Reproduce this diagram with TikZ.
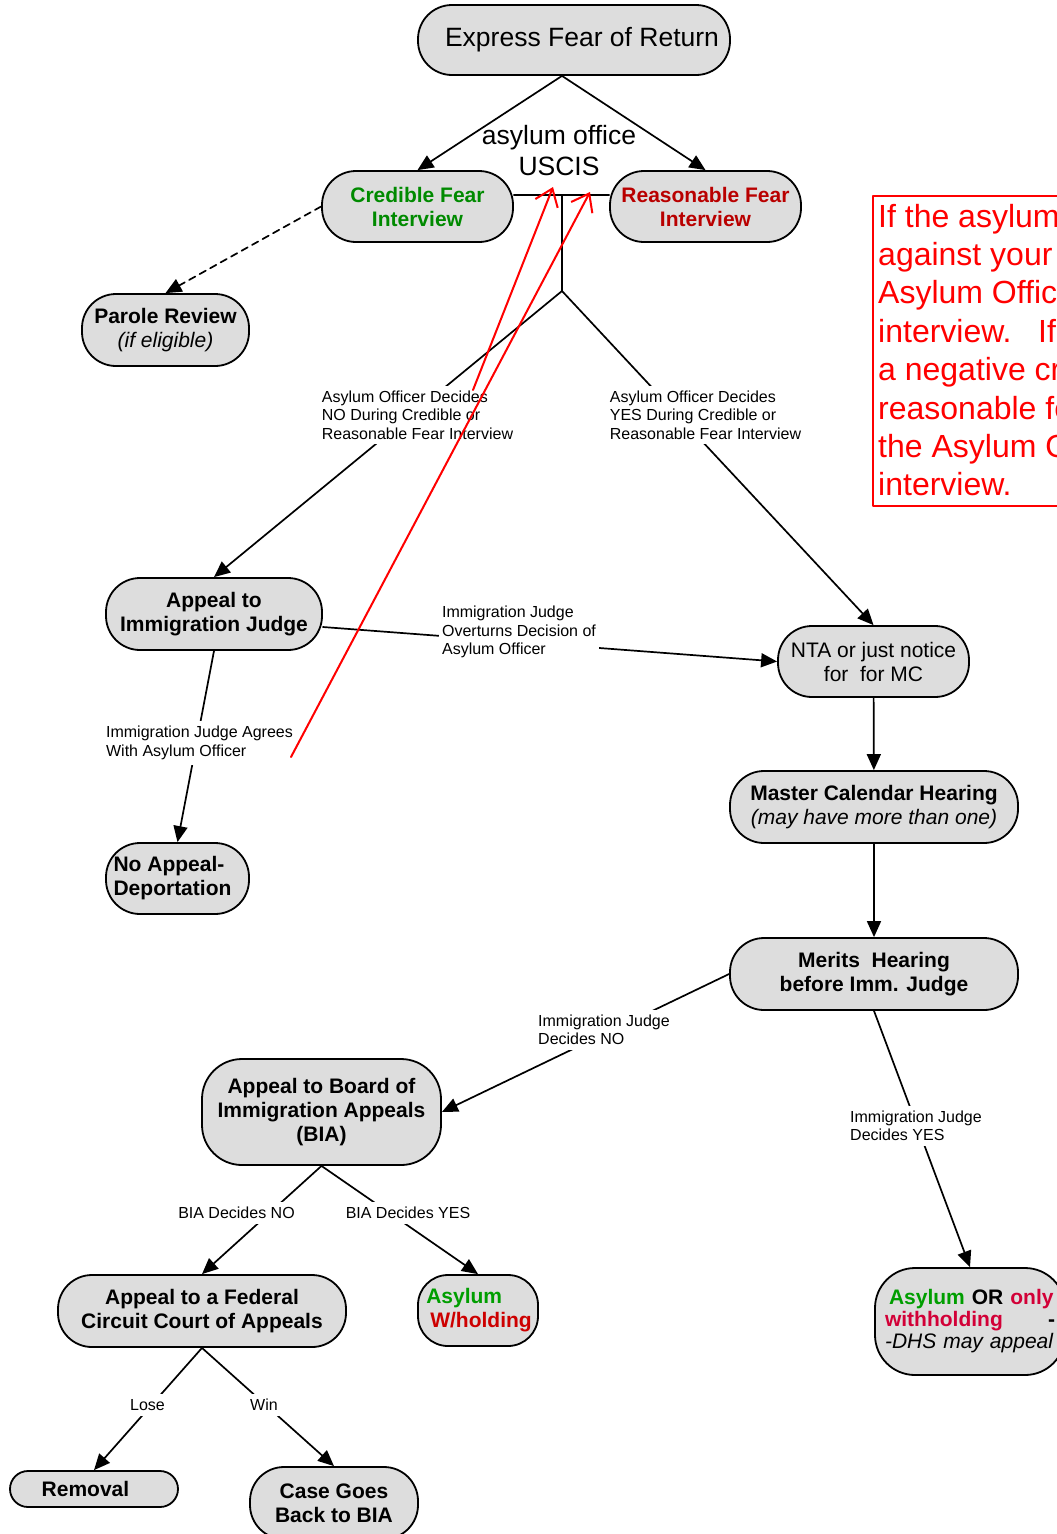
\documentclass[tikz,border=0pt]{standalone}
\usepackage{fontspec}
\setmainfont{Liberation Sans}
\usetikzlibrary{arrows.meta}
\definecolor{cmapgray}{RGB}{221,221,221}
\definecolor{cfgreen}{RGB}{0,138,0}
\definecolor{asygreen}{RGB}{0,158,0}
\definecolor{rfred}{RGB}{185,0,0}
\definecolor{whred}{RGB}{205,0,0}
\definecolor{onlyred}{RGB}{210,0,55}
\newcommand{\cmapfont}{\fontsize{21}{24}\selectfont}
\newcommand{\linkfont}{\fontsize{16}{18.3}\selectfont}
\newcommand{\headfont}{\fontsize{26.5}{31}\selectfont}
\newcommand{\notefont}{\fontsize{32}{38.4}\selectfont}

\begin{document}
\begin{tikzpicture}[x=1pt, y=-1pt, line join=round, line cap=round, >={Triangle[length=16pt,width=14pt]}]
            \tikzset{concept/.style={draw, line width=1.8pt, fill=cmapgray, rounded corners=34pt, inner sep=0pt, align=center, font=\cmapfont\bfseries},
                     link/.style={fill=white, inner xsep=3pt, inner ysep=5pt, align=left, font=\linkfont},
                     conn/.style={line width=1.7pt},
                     redmark/.style={red, line width=2pt, -{Straight Barb[length=16pt,width=24pt]}}}
            \useasboundingbox (0,0) rectangle (1057,1534);
            \clip (0,0) rectangle (1057,1534);
            % concepts
            \node[concept, minimum width=312pt, minimum height=70pt, font=\headfont] (express) at (574,40) {\hspace*{16pt}Express Fear of Return};
            \node[concept, minimum width=191pt, minimum height=71pt, text=cfgreen] (credible) at (417.5,206.5) {Credible Fear\\Interview};
            \node[concept, minimum width=191pt, minimum height=71pt, text=rfred] (reasonable) at (705.5,206.5) {Reasonable Fear\\Interview};
            \node[font=\headfont, align=center, inner sep=0pt] (uscis) at (559,151) {asylum office\\USCIS};
            \node[concept, minimum width=167pt, minimum height=72pt] (parole) at (165.5,330) {Parole Review\\{\mdseries\itshape (if eligible)}};
            \node[concept, minimum width=216pt, minimum height=72pt] (appealij) at (214,614) {Appeal to\\Immigration Judge};
            \node[concept, minimum width=191pt, minimum height=71pt, font=\cmapfont] (nta) at (873.5,661.5) {NTA or just notice\\for\ \ for MC};
            \node[concept, minimum width=288pt, minimum height=72pt] (master) at (874,807) {Master Calendar Hearing\\{\mdseries\itshape (may have more than one)}};
            \node[concept, minimum width=143pt, minimum height=71pt, align=left] (noappeal) at (177.5,878.5) {No Appeal-\\Deportation\hspace*{10pt}};
            \node[concept, minimum width=288pt, minimum height=72pt] (merits) at (874,974) {Merits\ \ Hearing\\before Imm. Judge};
            \node[concept, minimum width=239pt, minimum height=106pt, rounded corners=40pt] (bia) at (321.5,1112) {Appeal to Board of\\Immigration Appeals\\(BIA)};
            \node[concept, minimum width=288pt, minimum height=72pt] (federal) at (202,1311) {Appeal to a Federal\\Circuit Court of Appeals};
            \node[concept, minimum width=120pt, minimum height=71pt, rounded corners=30pt, align=left] (aswh) at (478,1310.5) {\hspace*{2pt}{\color{asygreen}Asylum}\\\hspace*{6pt}{\color{whred}W/holding}};
            \node[concept, minimum width=190pt, minimum height=107pt, rounded corners=40pt, text width=170pt, align=left, font=\fontsize{21}{22}\selectfont\bfseries] (asyor) at (970,1321.5) {\hspace*{4pt}{\color{asygreen}Asylum} OR {\color{onlyred}only}\\{\color{onlyred}withholding}\hfill-\\{\mdseries\itshape -DHS may appeal}};
            \node[concept, minimum width=168pt, minimum height=36pt, rounded corners=18pt] (removal) at (94,1489) {Removal\hspace*{17pt}};
            \node[concept, minimum width=168pt, minimum height=72pt] (casebia) at (334,1503) {Case Goes\\Back to BIA};
            \coordinate (fork) at (562,195);
            \coordinate (split) at (562,291);
            % links
            \draw[conn,->] (express.south -| fork) -- (credible.north);
            \draw[conn,->] (express.south -| fork) -- (reasonable.north);
            \draw[conn,->,dash pattern=on 7pt off 5pt] (credible.west) -- (parole.north);
            \draw[conn] (credible.east |- fork) -- (reasonable.west |- fork);
            \draw[conn] (fork) -- (split);
            \draw[conn,->] (split) -- (appealij.north);
            \draw[conn,->] (split) -- (nta.north);
            \draw[conn,->] ([yshift=-13pt]appealij.east) -- (nta.west);
            \draw[conn,->] (appealij.south) -- (noappeal.north);
            \draw[conn,->] (nta) -- (master);
            \draw[conn,->] (master) -- (merits);
            \draw[conn,->] (merits.west) -- (bia.east);
            \draw[conn,->] (merits.south) -- (asyor.north);
            \draw[conn,->] (bia.south) -- (federal.north);
            \draw[conn,->] (bia.south) -- (aswh.north);
            \draw[conn,->] (federal.south) -- (removal.north);
            \draw[conn,->] (federal.south) -- (casebia.north);
            % linking phrases
            \node[link] (aono) at (417.5,415) {Asylum Officer Decides\\NO During Credible or\\Reasonable Fear Interview};
            \node[link] (aoyes) at (705.5,415) {Asylum Officer Decides\\YES During Credible or\\Reasonable Fear Interview};
            \node[link] (overturn) at (519,632) {Immigration Judge\\Overturns Decision of\\Asylum Officer};
            \node[link] (agree) at (199.5,743) {Immigration Judge Agrees\\With Asylum Officer};
            \node[link] (ijno) at (604,1030) {Immigration Judge\\Decides NO};
            \node[link] (ijyes) at (916,1126) {Immigration Judge\\Decides YES};
            \node[link] (biano) at (236.5,1213) {BIA Decides NO};
            \node[link] (biayes) at (408,1213) {BIA Decides YES};
            \node[link] (lose) at (147.5,1405) {Lose};
            \node[link] (win) at (264,1405) {Win};
            % note
            \draw[red, line width=2pt] (873,196) rectangle (1090,506);
            \foreach \txt [count=\i] in {If the asylum, against your, Asylum Office, interview.\ \ \ If, a negative cre, reasonable fea, the Asylum Of, interview.}
              \node[anchor=base west, inner sep=0pt, red, font=\notefont] (note\i) at (878,{227+38.4*(\i-1)}) {\txt};
            \coordinate (redtailA) at (473,390);
            \coordinate (redtipA) at (553,187);
            \coordinate (redtailB) at (291,757);
            \coordinate (redtipB) at (590,192);
            \draw[redmark] (redtailA) -- (redtipA);
            \draw[redmark] (redtailB) -- (redtipB);
\end{tikzpicture}
\end{document}
